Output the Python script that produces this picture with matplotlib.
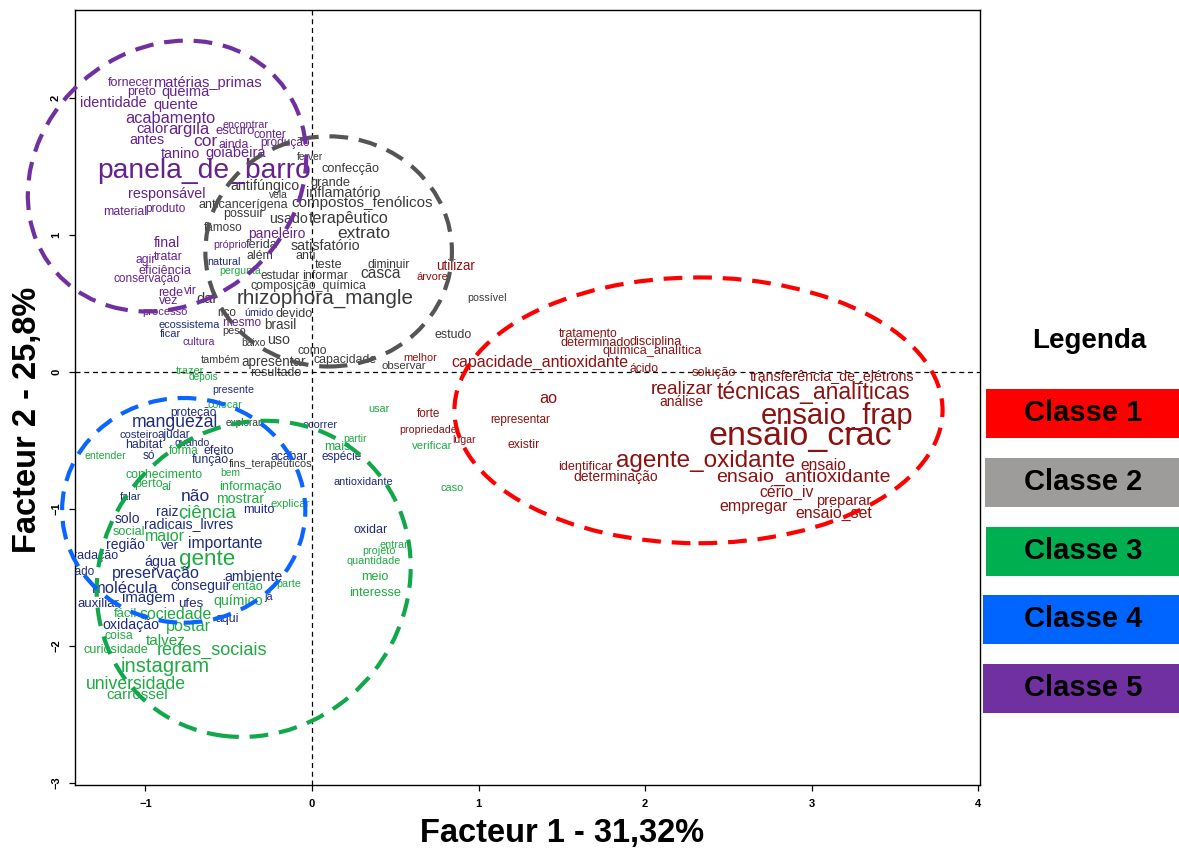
import matplotlib
matplotlib.use("Agg")
import matplotlib.pyplot as plt
from matplotlib.patches import Ellipse, Rectangle

plt.rcParams['font.family'] = ['Liberation Sans', 'DejaVu Sans']

# classe 1 (vermelho)
c1_words = ["utilizar", "árvore", "melhor", "tratamento", "determinado", "disciplina",
            "química_analítica", "capacidade_antioxidante", "ácido", "solução",
            "transferência_de_elétrons", "realizar", "técnicas_analíticas", "ao", "análise",
            "forte", "ensaio_frap", "representar", "propriedade", "ensaio_crac", "lugar",
            "existir", "agente_oxidante", "ensaio", "identificar", "determinação",
            "ensaio_antioxidante", "cério_iv", "preparar", "empregar", "ensaio_set"]
c1_x = [0.86, 0.72, 0.65, 1.66, 1.70, 2.06, 2.04, 1.37, 1.99, 2.41, 3.12, 2.22, 3.01, 1.42, 2.22,
        0.70, 3.15, 1.25, 0.70, 2.93, 0.91, 1.27, 2.36, 3.07, 1.64, 1.82, 2.95, 2.85, 3.19, 2.65, 3.13]
c1_y = [0.77, 0.69, 0.10, 0.28, 0.21, 0.22, 0.15, 0.07, 0.02, -0.01, -0.03, -0.13, -0.15, -0.19, -0.22,
        -0.31, -0.32, -0.35, -0.42, -0.47, -0.50, -0.53, -0.65, -0.68, -0.69, -0.77, -0.77, -0.88,
        -0.94, -0.98, -1.03]
c1_size = [9.2, 7.6, 7.5, 8.3, 8.6, 8.6, 8.7, 11.5, 8.2, 8.8, 9.6, 13.8, 16.5, 11.7, 10.0,
           7.9, 21, 8.0, 7.2, 24.5, 7.1, 8.3, 17.5, 11.2, 8.6, 10.0, 14.0, 11.3, 9.9, 11.5, 11.4]

# classe 2 (cinza)
c2_words = ["ferver", "antifúngico", "confecção", "grande", "vela", "inflamatório",
            "compostos_fenólicos", "anticancerígena", "possuir", "usado", "terapêutico", "famoso",
            "extrato", "satisfatório", "ferida", "além", "anti", "teste", "diminuir", "estudar",
            "informar", "casca", "composição_química", "dar", "rhizophora_mangle", "possível",
            "rico", "devido", "brasil", "peso", "estudo", "baixo", "uso", "como", "também",
            "capacidade", "apresentar", "observar", "resultado", "explorar", "fins_terapêuticos"]
c2_x = [-0.01, -0.28, 0.23, 0.11, -0.20, 0.19, 0.30, -0.41, -0.41, -0.14, 0.22, -0.53, 0.31, 0.08,
        -0.30, -0.31, -0.04, 0.10, 0.46, -0.19, 0.08, 0.41, -0.02, -0.63, 0.08, 1.05, -0.51, -0.11,
        -0.19, -0.47, 0.85, -0.35, -0.20, 0.00, -0.55, 0.20, -0.23, 0.55, -0.22, -0.41, -0.25]
c2_y = [1.57, 1.36, 1.48, 1.38, 1.29, 1.31, 1.23, 1.22, 1.15, 1.12, 1.12, 1.05, 1.01, 0.92, 0.93,
        0.85, 0.85, 0.78, 0.78, 0.70, 0.70, 0.72, 0.63, 0.53, 0.54, 0.54, 0.43, 0.42, 0.34, 0.30,
        0.27, 0.21, 0.23, 0.15, 0.09, 0.09, 0.07, 0.04, -0.01, -0.37, -0.67]
c2_size = [7.0, 9.6, 8.7, 8.8, 7.0, 9.7, 11.0, 8.5, 8.5, 10.2, 11.6, 8.0, 12.5, 10.3, 8.6, 8.3, 8.5,
           8.6, 8.2, 8.0, 8.4, 11.2, 8.3, 10.5, 14.9, 7.2, 8.0, 8.6, 9.2, 7.4, 8.4, 7.0, 10.3, 8.2,
           7.4, 8.3, 9.2, 7.8, 8.4, 6.9, 7.5]

# classe 3 (verde)
c3_words = ["pergunta", "trazer", "depois", "colocar", "usar", "partir", "mais", "verificar",
            "entender", "forma", "bem", "conhecimento", "perto", "aí", "informação", "caso",
            "mostrar", "explicar", "ciência", "social", "maior", "entrar", "projeto", "gente",
            "quantidade", "meio", "parte", "então", "interesse", "químico", "sociedade", "fácil",
            "postar", "coisa", "talvez", "curiosidade", "redes_sociais", "instagram",
            "universidade", "carrossel"]
c3_x = [-0.43, -0.73, -0.65, -0.52, 0.40, 0.26, 0.15, 0.72, -1.24, -0.77, -0.49, -0.89, -0.98,
        -0.87, -0.37, 0.84, -0.43, -0.13, -0.63, -1.10, -0.88, 0.49, 0.40, -0.63, 0.37, 0.38,
        -0.14, -0.39, 0.38, -0.44, -0.82, -1.12, -0.74, -1.16, -0.88, -1.18, -0.60, -0.88,
        -1.06, -1.05]
c3_y = [0.74, 0.01, -0.04, -0.24, -0.27, -0.49, -0.55, -0.54, -0.61, -0.58, -0.74, -0.75, -0.82,
        -0.84, -0.84, -0.85, -0.93, -0.96, -1.03, -1.17, -1.20, -1.26, -1.31, -1.37, -1.38, -1.50,
        -1.55, -1.57, -1.61, -1.67, -1.77, -1.77, -1.86, -1.93, -1.96, -2.03, -2.03, -2.15,
        -2.28, -2.36]
c3_size = [7.1, 7.5, 6.9, 7.2, 7.4, 7.0, 8.5, 7.8, 7.1, 7.9, 7.0, 8.4, 8.5, 8.3, 8.6, 7.5, 10.2,
           7.7, 13.4, 8.7, 11.5, 7.4, 7.3, 16.1, 7.3, 8.6, 7.3, 8.6, 8.7, 10.2, 11.4, 8.9, 11.7,
           8.3, 11.0, 8.6, 13.0, 14.6, 12.7, 11.0]

# classe 4 (azul)
c4_words = ["natural", "úmido", "ecossistema", "ficar", "presente", "proteção", "manguezal",
            "ocorrer", "costeiro", "ajudar", "quando", "habitat", "efeito", "só", "espécie",
            "acabar", "função", "antioxidante", "falar", "não", "muito", "raiz", "solo",
            "radicais_livres", "oxidar", "importante", "região", "ver", "degradação", "água",
            "cuidado", "preservação", "ambiente", "conseguir", "molécula", "imagem", "ufes",
            "auxiliar", "já", "aqui", "oxidação"]
c4_x = [-0.53, -0.32, -0.74, -0.85, -0.47, -0.71, -0.82, 0.05, -1.04, -0.83, -0.72, -1.01, -0.56,
        -0.98, 0.18, -0.14, -0.61, 0.31, -1.09, -0.70, -0.32, -0.87, -1.11, -0.74, 0.35, -0.52,
        -1.12, -0.85, -1.36, -0.91, -1.43, -0.94, -0.35, -0.67, -1.12, -0.98, -0.73, -1.28,
        -0.26, -0.51, -1.09]
c4_y = [0.80, 0.43, 0.34, 0.28, -0.13, -0.30, -0.37, -0.39, -0.46, -0.46, -0.52, -0.53, -0.58,
        -0.61, -0.62, -0.62, -0.64, -0.80, -0.91, -0.91, -1.01, -1.02, -1.07, -1.11, -1.15, -1.25,
        -1.26, -1.27, -1.34, -1.39, -1.46, -1.47, -1.50, -1.56, -1.58, -1.65, -1.69, -1.69,
        -1.64, -1.80, -1.85]
c4_size = [7.3, 7.2, 7.5, 7.6, 7.2, 8.1, 12.7, 7.5, 7.6, 8.0, 7.1, 8.4, 8.5, 8.0, 7.9, 8.2, 8.4,
           7.5, 7.4, 12.5, 8.8, 9.4, 10.0, 10.1, 8.5, 11.3, 10.0, 8.8, 8.5, 9.7, 8.0, 11.5, 9.6,
           10.0, 11.9, 10.7, 9.1, 9.0, 7.4, 8.4, 9.6]

# classe 5 (roxo)
c5_words = ["fornecer", "matérias_primas", "preto", "queima", "identidade", "quente", "acabamento",
            "calor", "argila", "encontrar", "escuro", "conter", "antes", "cor", "ainda", "produção",
            "tanino", "goiabeira", "panela_de_barro", "responsável", "material", "produto", "final",
            "agir", "tratar", "eficiência", "conservação", "rede", "vir", "vez", "processo",
            "cultura", "próprio", "paneleiro", "mesmo"]
c5_x = [-1.09, -0.63, -1.02, -0.76, -1.19, -0.82, -0.85, -0.96, -0.74, -0.40, -0.46, -0.25, -0.99,
        -0.64, -0.47, -0.16, -0.79, -0.46, -0.65, -0.87, -1.12, -0.88, -0.87, -1.00, -0.86, -0.88,
        -0.99, -0.85, -0.73, -0.86, -0.88, -0.68, -0.49, -0.21, -0.42]
c5_y = [2.11, 2.11, 2.04, 2.04, 1.96, 1.95, 1.85, 1.77, 1.77, 1.80, 1.76, 1.73, 1.69, 1.68, 1.66,
        1.67, 1.59, 1.60, 1.47, 1.30, 1.17, 1.19, 0.94, 0.82, 0.84, 0.74, 0.68, 0.58, 0.59, 0.52,
        0.44, 0.22, 0.93, 1.01, 0.36]
c5_size = [8.5, 9.9, 8.6, 9.9, 9.8, 9.9, 11.8, 10.6, 12.0, 7.3, 8.9, 8.0, 9.7, 12.5, 8.3, 8.1,
           10.3, 10.5, 20.3, 9.7, 8.3, 8.1, 10.2, 8.2, 8.3, 8.6, 8.0, 8.5, 8.2, 8.5, 7.6, 7.2,
           7.2, 10.0, 8.1]

word_colors = ['#8c1111', '#3a3a3a', '#1faa42', '#1f2b7e', '#65228f']
legend_colors = ['#ff0000', '#9e9b9b', '#00b050', '#0064ff', '#7030a0']
legend_labels = ["Classe 1", "Classe 2", "Classe 3", "Classe 4", "Classe 5"]

# elipses de cada classe: centro, largura, altura, angulo
ell_center = [(2.32, -0.28), (0.10, 0.88), (-0.35, -1.51), (-0.77, -1.01), (-0.87, 1.43)]
ell_width = [2.93, 1.48, 1.87, 1.46, 1.62]
ell_height = [1.94, 1.68, 2.32, 1.64, 2.02]
ell_angle = [0, 0, -10, 0, -20]
ell_colors = ['#ff0000', '#555555', '#10a84a', '#0a64ff', '#7030a0']

classes = [(c1_words, c1_x, c1_y, c1_size), (c2_words, c2_x, c2_y, c2_size),
           (c3_words, c3_x, c3_y, c3_size), (c4_words, c4_x, c4_y, c4_size),
           (c5_words, c5_x, c5_y, c5_size)]

fig = plt.figure(figsize=(11.79, 8.49), dpi=100)
ax = fig.add_axes([0.0636, 0.0754, 0.7676, 0.9128])

ax.set_xlim(-1.4226, 4.0096)
ax.set_ylim(-3.0146, 2.642)

ax.axvline(0, color='black', lw=0.9, ls=(0, (4, 3)), zorder=1)
ax.axhline(0, color='black', lw=0.9, ls=(0, (4, 3)), zorder=1)

for i, (words, xs, ys, sizes) in enumerate(classes):
    for w, x, y, s in zip(words, xs, ys, sizes):
        # as palavras pequenas ficam um pouco maiores no original (jpeg borrado)
        fs = s * 1.06 if s < 10 else s
        ax.text(x, y, w, fontsize=fs, color=word_colors[i], ha='center', va='center',
                clip_on=True, zorder=3)

for i in range(5):
    e = Ellipse(ell_center[i], ell_width[i], ell_height[i], angle=ell_angle[i], fill=False,
                edgecolor=ell_colors[i], lw=3, ls=(0, (4.5, 2.6)), clip_on=False, zorder=4)
    ax.add_patch(e)

ax.set_xticks([-1, 0, 1, 2, 3, 4])
ax.set_yticks([-3, -2, -1, 0, 1, 2])
ax.tick_params(direction='out', length=4, width=0.9, labelsize=8, pad=6)
for lab in ax.get_xticklabels():
    lab.set_fontweight('bold')
for lab in ax.get_yticklabels():
    lab.set_fontweight('bold')
    lab.set_rotation(90)
    lab.set_va('center')
for sp in ax.spines.values():
    sp.set_linewidth(1.0)

fig.text(0.4767, 0.0177, "Facteur 1 - 31,32%", fontsize=23.5, fontweight='bold',
         ha='center', va='center')
fig.text(0.0237, 0.5053, "Facteur 2 - 25,8%", fontsize=23.5, fontweight='bold',
         ha='center', va='center', rotation=90)

# legenda lateral
fig.text(0.9237, 0.5984, "Legenda", fontsize=20, fontweight='bold', ha='center', va='center')
box_left = [0.8363, 0.8355, 0.8363, 0.8338, 0.8338]
box_bottom = [0.4841, 0.4028, 0.3216, 0.2415, 0.1602]
for i in range(5):
    fig.add_artist(Rectangle((box_left[i], box_bottom[i]), 1.0 - box_left[i], 0.0577,
                             transform=fig.transFigure, facecolor=legend_colors[i],
                             edgecolor='none'))
    fig.text(0.9186, box_bottom[i] + 0.0289, legend_labels[i], fontsize=21, fontweight='bold',
             ha='center', va='center')

fig.savefig("out.png", dpi=100)
